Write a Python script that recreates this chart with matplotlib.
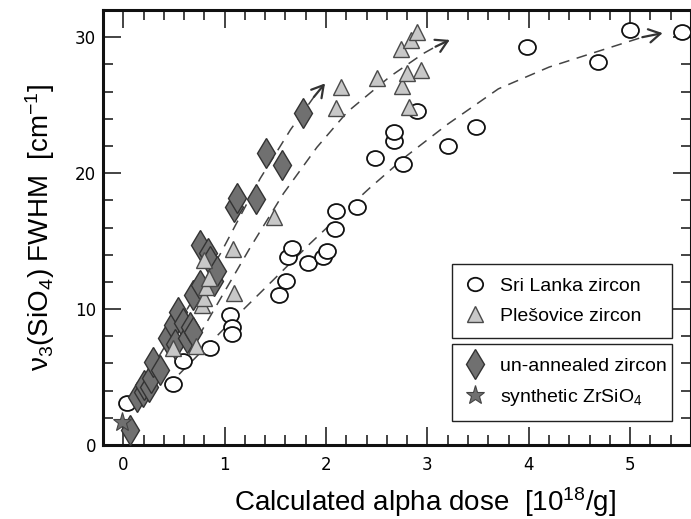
import matplotlib
matplotlib.use("Agg")
import matplotlib.pyplot as plt
import numpy as np
from matplotlib.path import Path
from matplotlib.markers import MarkerStyle
from matplotlib.lines import Line2D
from matplotlib.ticker import MultipleLocator

plt.rcParams['mathtext.fontset'] = 'custom'
plt.rcParams['mathtext.rm'] = 'Liberation Sans'
plt.rcParams['mathtext.it'] = 'Liberation Sans:italic'

# Sri Lanka zircon (open circles)
sri_x = [0.04, 0.49, 0.59, 0.86, 1.05, 1.07, 1.07, 1.54, 1.61, 1.62, 1.66, 1.82, 1.97, 2.01,
         2.09, 2.10, 2.31, 2.48, 2.67, 2.67, 2.76, 2.90, 3.20, 3.48, 3.98, 4.68, 5.00, 5.51]
sri_y = [3.1, 4.5, 6.2, 7.1, 9.6, 8.7, 8.2, 11.0, 12.1, 13.8, 14.5, 13.4, 13.8, 14.3,
         15.9, 17.2, 17.5, 21.1, 22.4, 23.0, 20.7, 24.6, 22.0, 23.4, 29.3, 28.2, 30.5, 30.4]

# Plesovice zircon (grey triangles)
ples_x = [0.49, 0.72, 0.78, 0.80, 0.82, 0.80, 0.85, 1.09, 1.08, 1.49,
          2.10, 2.15, 2.50, 2.75, 2.80, 2.82, 2.94, 2.74, 2.84, 2.90]
ples_y = [7.1, 7.3, 10.3, 10.8, 11.6, 13.6, 12.3, 11.2, 14.4, 16.8,
          24.8, 26.3, 27.0, 26.4, 27.4, 24.9, 27.6, 29.1, 29.8, 30.4]

# un-annealed zircon (dark diamonds)
unann_x = [0.07, 0.14, 0.19, 0.20, 0.25, 0.27, 0.29, 0.36, 0.43, 0.49, 0.51, 0.54, 0.59, 0.63,
           0.66, 0.69, 0.69, 0.76, 0.76, 0.84, 0.86, 0.89, 0.92, 1.09, 1.12, 1.31, 1.41, 1.57, 1.77]
unann_y = [1.1, 3.5, 3.9, 4.4, 4.3, 4.9, 6.1, 5.5, 7.9, 8.8, 7.4, 9.8, 9.0, 7.9,
           8.7, 8.3, 11.0, 11.8, 14.7, 14.1, 13.5, 12.1, 12.8, 17.5, 18.2, 18.1, 21.5, 20.6, 24.4]

# synthetic ZrSiO4 (star)
synth_x = [-0.01]
synth_y = [1.7]

# hand-drawn trend lines (last point = arrow tip)
fit_unann_x = [0.35, 0.96, 1.35, 1.65, 1.88, 1.99]
fit_unann_y = [6.5, 14.1, 19.6, 23.2, 25.6, 26.6]
fit_ples_x = [0.65, 1.00, 1.25, 1.58, 1.91, 2.21, 2.63, 2.96, 3.08, 3.22]
fit_ples_y = [6.8, 11.3, 14.5, 18.5, 21.9, 24.5, 27.1, 28.8, 29.3, 29.8]
fit_sri_x = [0.55, 1.08, 1.42, 1.84, 2.11, 2.43, 2.80, 3.20, 3.70, 4.20, 4.70, 5.12, 5.32]
fit_sri_y = [5.2, 9.2, 11.7, 14.8, 16.7, 18.9, 21.3, 23.6, 26.2, 27.8, 29.0, 30.0, 30.3]

# elliptical circle marker (slightly squashed as in the figure)
ell = Path.unit_circle().transformed(matplotlib.transforms.Affine2D().scale(1.0, 0.88))
ell_marker = MarkerStyle(ell)

fig = plt.figure(figsize=(6.91, 5.19), dpi=100)
ax = fig.add_axes([103 / 691, 74 / 519, 1 - 103 / 691, 435 / 519])

line_kw = dict(color='#444444', lw=1.1, dashes=(7, 5), zorder=1)
for fx, fy in ((fit_unann_x, fit_unann_y), (fit_ples_x, fit_ples_y), (fit_sri_x, fit_sri_y)):
    ax.plot(fx[:-1], fy[:-1], **line_kw)
    ax.annotate('', xy=(fx[-1], fy[-1]), xytext=(fx[-2], fy[-2]),
                arrowprops=dict(arrowstyle='->,head_length=0.55,head_width=0.32', color='#333333',
                                lw=1.6, shrinkA=0, shrinkB=0, mutation_scale=15), zorder=2)

ax.plot(sri_x, sri_y, ls='none', marker=ell_marker, ms=12.2, mfc='white', mec='#111111', mew=1.3, zorder=3)
ax.plot(unann_x, unann_y, ls='none', marker='d', ms=15, mfc='#707070', mec='#333333', mew=1.0, zorder=4)
ax.plot(ples_x, ples_y, ls='none', marker='^', ms=12, mfc='#c8c8c8', mec='#4a4a4a', mew=1.0, zorder=5)
ax.plot(synth_x, synth_y, ls='none', marker='*', ms=14, mfc='#707070', mec='#444444', mew=0.8, zorder=6)

ax.set_xlim(-0.2, 5.6)
ax.set_ylim(0, 32)
ax.xaxis.set_major_locator(MultipleLocator(1))
ax.xaxis.set_minor_locator(MultipleLocator(0.2))
ax.yaxis.set_major_locator(MultipleLocator(10))
ax.yaxis.set_minor_locator(MultipleLocator(2))
ax.tick_params(which='both', direction='in', top=True, right=True, width=1.1, color='#111111')
ax.tick_params(which='major', length=13, labelsize=12)
ax.tick_params(which='minor', length=7.5)
ax.tick_params(axis='x', which='major', pad=8)
ax.tick_params(axis='y', which='major', pad=5)
for lab in ax.get_xticklabels() + ax.get_yticklabels():
    lab.set_fontfamily('DejaVu Sans')
for sp in ax.spines.values():
    sp.set_linewidth(2.2)
    sp.set_color('#111111')

ax.set_xlabel(r'Calculated alpha dose  [10$^{18}$/g]', fontsize=20, family='Liberation Sans')
ax.xaxis.set_label_coords(0.548, -0.093)
ax.set_ylabel('ν$_3$(SiO$_4$) FWHM  [cm$^{-1}$]', fontsize=20, family='Liberation Sans')
ax.yaxis.set_label_coords(-0.078, 0.5)

h1 = [Line2D([], [], ls='none', marker=ell_marker, ms=11, mfc='white', mec='#111111', mew=1.3),
      Line2D([], [], ls='none', marker='^', ms=12, mfc='#c8c8c8', mec='#4a4a4a', mew=1.0)]
h2 = [Line2D([], [], ls='none', marker='d', ms=15, mfc='#707070', mec='#333333', mew=1.0),
      Line2D([], [], ls='none', marker='*', ms=14, mfc='#707070', mec='#444444', mew=0.8)]
leg_kw = dict(loc='upper left', mode='expand', borderaxespad=0, fancybox=False, framealpha=1,
              edgecolor='#222222', handlelength=1.0, handletextpad=0.8, borderpad=0.68,
              labelspacing=0.63, prop={'family': 'Liberation Sans', 'size': 14})
leg1 = ax.legend(h1, ['Sri Lanka zircon', 'Plešovice zircon'],
                 bbox_to_anchor=(0.594, 0.0, 0.374, 0.416), **leg_kw)
leg1.get_frame().set_linewidth(1.0)
ax.add_artist(leg1)
leg2 = ax.legend(h2, ['un-annealed zircon', 'synthetic ZrSiO$_4$'],
                 bbox_to_anchor=(0.594, 0.0, 0.374, 0.232), **leg_kw)
leg2.get_frame().set_linewidth(1.0)

fig.savefig('out.png', dpi=100)
